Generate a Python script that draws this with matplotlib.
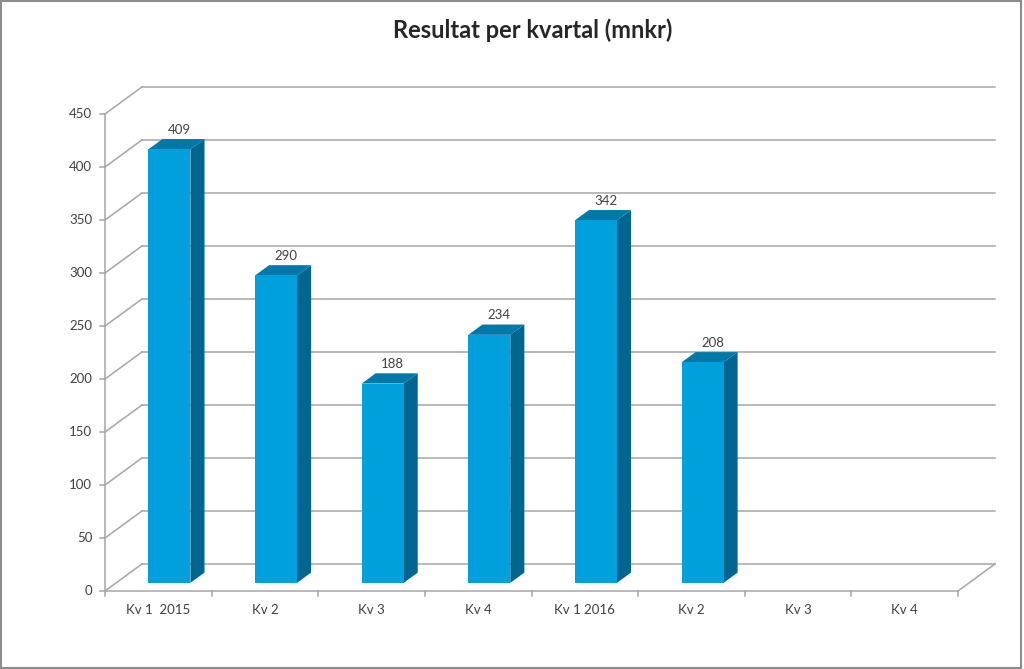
import matplotlib
matplotlib.use('Agg')
import matplotlib.pyplot as plt
from matplotlib.patches import Polygon, Rectangle

plt.rcParams['font.family'] = ['Lato', 'DejaVu Sans']

# data
categories = ['Kv 1  2015', 'Kv 2', 'Kv 3', 'Kv 4', 'Kv 1 2016', 'Kv 2', 'Kv 3', 'Kv 4']
values = [409, 290, 188, 234, 342, 208, None, None]
yticks = [0, 50, 100, 150, 200, 250, 300, 350, 400, 450]
title = 'Resultat per kvartal (mnkr)'

# oblique projection of the depth axis (category units, value units)
DX, DY = 0.347, 25.5
FRONT, BACK = 0.30, 0.68       # bar depth range as fraction of floor depth
BAR_W = 0.394

FACE = '#00a0dc'
SIDE = '#006690'
TOP = '#0078a8'
GRID = '#a6a6a6'
TXT = '#404040'

fig = plt.figure(figsize=(10.24, 6.69), dpi=100)
ax = fig.add_axes([0, 0, 1, 1])
ax.set_xlim(-0.985, 8.619)
ax.set_ylim(-73.6, 557.5)
ax.axis('off')

n = len(categories)
ymax = yticks[-1]

# back wall gridlines and left wall diagonals
for v in yticks:
    ax.plot([DX, n + DX], [v + DY, v + DY], color=GRID, lw=1.1, zorder=1)
    ax.plot([0, DX], [v, v + DY], color=GRID, lw=1.1, zorder=1)
    ax.plot([-0.045, 0], [v, v], color=GRID, lw=1.1, zorder=1)
    ax.text(-0.12, v, str(v), ha='right', va='center', fontsize=9.5, color=TXT)

# front value axis, floor front edge and right floor edge
ax.plot([0, 0], [0, ymax], color=GRID, lw=1.1, zorder=1)
ax.plot([0, n], [0, 0], color=GRID, lw=1.1, zorder=1)
ax.plot([n, n + DX], [0, DY], color=GRID, lw=1.1, zorder=1)
for i in range(n + 1):
    ax.plot([i, i], [0, -5], color=GRID, lw=1.1, zorder=1)

for i, (lab, v) in enumerate(zip(categories, values)):
    ax.text(i + 0.5, -18, lab, ha='center', va='center', fontsize=9.5, color=TXT)
    if v is None:
        continue
    x0 = i + 0.5 - BAR_W / 2 + FRONT * DX
    x1 = x0 + BAR_W
    y0 = FRONT * DY
    y1 = v + FRONT * DY
    ddx = (BACK - FRONT) * DX
    ddy = (BACK - FRONT) * DY
    ax.add_patch(Polygon([(x1, y0), (x1 + ddx, y0 + ddy), (x1 + ddx, y1 + ddy), (x1, y1)],
                         closed=True, facecolor=SIDE, edgecolor='none', zorder=3))
    ax.add_patch(Polygon([(x0, y1), (x1, y1), (x1 + ddx, y1 + ddy), (x0 + ddx, y1 + ddy)],
                         closed=True, facecolor=TOP, edgecolor='none', zorder=3))
    ax.add_patch(Rectangle((x0, y0), BAR_W, v, facecolor=FACE, edgecolor='none', zorder=4))
    ax.text(x0 + BAR_W / 2 + ddx * 0.7, y1 + ddy + 3, str(v), ha='center', va='bottom',
            fontsize=9.5, color=TXT, zorder=5)

fig.text(0.52, 0.955, title, ha='center', va='center', fontsize=17, fontweight='bold',
         color='#262626')

fig.patches.append(Rectangle((0.001, 0.002), 0.996, 0.996, transform=fig.transFigure,
                             fill=False, edgecolor='#8c8c8c', lw=1.5))

fig.savefig('out.png', dpi=100)
